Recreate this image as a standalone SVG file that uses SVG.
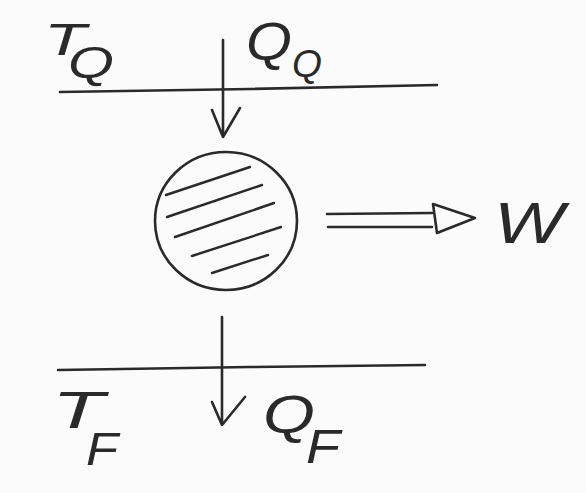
<svg xmlns="http://www.w3.org/2000/svg" width="586" height="493" viewBox="0 0 586 493">
<style>
.ln{fill:none;stroke:#2a2a2a;stroke-width:2.6;stroke-linecap:round;stroke-linejoin:round}
.hl{fill:none;stroke:#2a2a2a;stroke-width:2.4;stroke-linecap:round}
.lb{font-family:"Liberation Sans","DejaVu Sans",sans-serif;font-style:italic;fill:#2a2a2a}
</style>
<rect width="586" height="493" fill="#fbfbfb"/>
<g id="hot-reservoir">
<path class="ln" d="M60,92 L250,89 L437,85"/>
<text class="lb"><tspan x="44" y="55" font-size="44" textLength="42" lengthAdjust="spacingAndGlyphs">T</tspan><tspan x="68" y="78" font-size="44" textLength="46" lengthAdjust="spacingAndGlyphs">Q</tspan></text>
</g>
<g id="cold-reservoir">
<path class="ln" d="M58,370 L250,367 L425,365"/>
<text class="lb"><tspan x="52" y="428" font-size="52" textLength="52" lengthAdjust="spacingAndGlyphs">T</tspan><tspan x="86" y="465" font-size="46" textLength="32" lengthAdjust="spacingAndGlyphs">F</tspan></text>
</g>
<g id="engine">
<ellipse class="ln" cx="226" cy="221" rx="71" ry="69"/>
<path class="hl" d="M166,195 L250,167 M167,217 L262,185 M175,237 L274,203 M192,256 L281,227 M212,273 L268,255"/>
</g>
<g id="connectors">
<path class="ln" d="M223,40 L223,137 M212,110 L223,137 L240,108"/>
<path class="ln" d="M222,317 L222,425 M212,402 L222,425 L245,397"/>
<path class="ln" d="M327,214 L432,213 M328,227 L432,227 M433,204 L475,218 L437,233 Z"/>
</g>
<g id="labels">
<text class="lb"><tspan x="246" y="60" font-size="53" textLength="46" lengthAdjust="spacingAndGlyphs">Q</tspan><tspan x="292" y="77" font-size="39" textLength="30" lengthAdjust="spacingAndGlyphs">Q</tspan></text>
<text class="lb"><tspan x="263" y="433" font-size="53" textLength="52" lengthAdjust="spacingAndGlyphs">Q</tspan><tspan x="306" y="463" font-size="48" textLength="34" lengthAdjust="spacingAndGlyphs">F</tspan></text>
<text class="lb" x="494" y="243" font-size="58" textLength="70" lengthAdjust="spacingAndGlyphs">W</text>
</g>
</svg>
